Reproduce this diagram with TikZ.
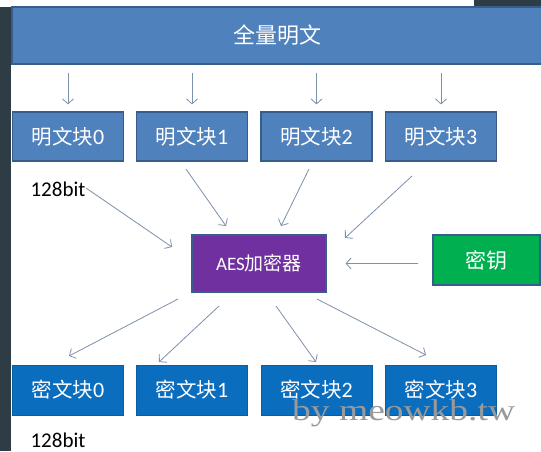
\documentclass[tikz,border=0pt]{standalone}
\usepackage{fontspec}
\setmainfont{Carlito}
\newfontfamily\cjk{Noto Sans CJK SC}
\newfontfamily\wmfont{Liberation Serif}
\usetikzlibrary{arrows.meta}
\definecolor{pblue}{HTML}{4F81BD}
\definecolor{cblue}{HTML}{0B6DBE}
\definecolor{apurple}{HTML}{7030A0}
\definecolor{kgreen}{HTML}{00B050}
\definecolor{edgec}{HTML}{385D8A}
\definecolor{arrc}{HTML}{7D90AC}
\definecolor{darkc}{HTML}{2E3D45}
\definecolor{wmc}{HTML}{9A9A9A}
\tikzset{
  box/.style={draw=edgec, line width=1.2pt, text=white, inner sep=0pt,
    font=\fontsize{20.5}{24}\selectfont},
  plainbox/.style={box, fill=pblue, minimum width=111pt, minimum height=49pt},
  cipherbox/.style={box, fill=cblue, draw=cblue!85!black, line width=0.6pt, minimum width=111pt, minimum height=50pt},
  conn/.style={draw=arrc, line width=0.8pt, -{Straight Barb[length=5pt,width=11pt]}},
  bitlabel/.style={font=\fontsize{21}{24}\selectfont, text=black, inner sep=0pt}
}
\newcommand{\dg}[1]{{\fontsize{22}{24}\selectfont #1}}
\begin{document}
\begin{tikzpicture}[x=1pt,y=-1pt]
\useasboundingbox (0,0) rectangle (541,451);
\fill[white] (0,0) rectangle (541,451);
\fill[darkc] (0,7) rectangle (11,451);
\fill[darkc] (474,0) rectangle (541,6);

% top box
\node[box, fill=pblue, minimum width=531pt, minimum height=57pt, font=\fontsize{22}{24}\selectfont] (top) at (277.5,35.5) {\cjk 全量明文};

% plaintext blocks
\node[plainbox] (p0) at (68,136.5) {{\cjk 明文块}\dg{0}};
\node[plainbox] (p1) at (192,136.5) {{\cjk 明文块}\dg{1}};
\node[plainbox] (p2) at (316.5,136.5) {{\cjk 明文块}\dg{2}};
\node[plainbox] (p3) at (441,136.5) {{\cjk 明文块}\dg{3}};

\node[bitlabel] (b1) at (58,189) {128bit};

% AES and key
\node[box, fill=apurple, minimum width=134pt, minimum height=57pt, font=\fontsize{19}{22}\selectfont] (aes) at (259,263.5) {AES{\cjk 加密器}};
\node[box, fill=kgreen, minimum width=107pt, minimum height=50pt, font=\fontsize{21}{24}\selectfont] (key) at (486.5,260) {\cjk 密钥};

% ciphertext blocks
\node[cipherbox] (c0) at (68,390) {{\cjk 密文块}\dg{0}};
\node[cipherbox] (c1) at (192,390) {{\cjk 密文块}\dg{1}};
\node[cipherbox] (c2) at (316.5,390) {{\cjk 密文块}\dg{2}};
\node[cipherbox] (c3) at (441,390) {{\cjk 密文块}\dg{3}};

\node[bitlabel] (b2) at (58,440) {128bit};

% top arrows
\foreach \p in {p0,p1,p2,p3}
  \draw[conn, shorten <=8pt, shorten >=7pt] (top.south -| \p.north) -- (\p.north);

% plaintext -> AES
\coordinate (s0) at (86,188);  \coordinate (e0) at (172,247);
\coordinate (s1) at (186,169); \coordinate (e1) at (226,226);
\coordinate (s2) at (309,169); \coordinate (e2) at (281,226);
\coordinate (s3) at (412,176); \coordinate (e3) at (345,238);
\draw[conn] (s0) -- (e0);
\draw[conn] (s1) -- (e1);
\draw[conn] (s2) -- (e2);
\draw[conn] (s3) -- (e3);

% key -> AES
\draw[conn, shorten <=14pt, shorten >=19pt] (aes.east -| key.west) -- (aes.east);

% AES -> ciphertext
\coordinate (t0) at (178,299); \coordinate (f0) at (69,356);
\coordinate (t1) at (219,306); \coordinate (f1) at (159,362);
\coordinate (t2) at (276,306); \coordinate (f2) at (316,362);
\coordinate (t3) at (317,299); \coordinate (f3) at (426,355);
\draw[conn] (t0) -- (f0);
\draw[conn] (t1) -- (f1);
\draw[conn] (t2) -- (f2);
\draw[conn] (t3) -- (f3);

% watermark
\node[anchor=base west, inner sep=0pt, text=wmc, font=\wmfont\fontsize{30}{34}\selectfont] (wm) at (292,420) {\scalebox{1.25}[1]{by meowkb.tw}};
\end{tikzpicture}
\end{document}
